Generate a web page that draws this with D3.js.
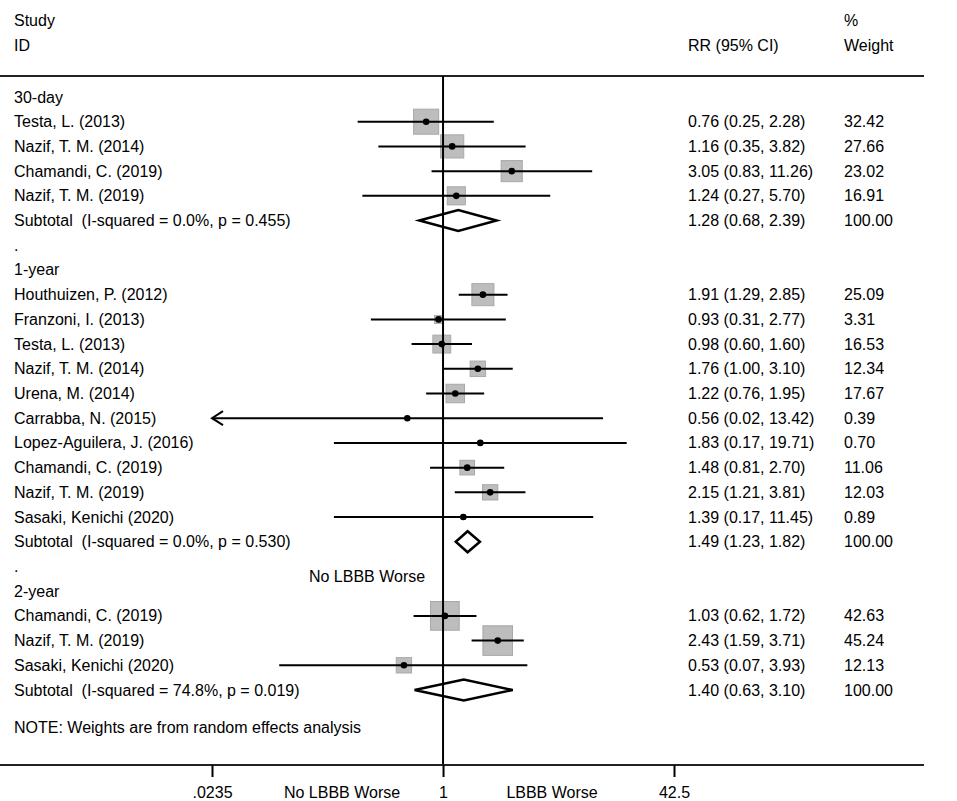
<!DOCTYPE html>
<html>
<head>
<meta charset="utf-8">
<script src="https://cdn.jsdelivr.net/npm/d3@7"></script>
<style>
  body { margin: 0; background: #fff; }
  text { font-family: "Liberation Sans", Arial, sans-serif; font-size: 16px; fill: #000; }
</style>
</head>
<body>
<div id="container"></div>
<script>
/* DATA */
const groupNames = ["30-day", "1-year", "2-year"];
const studyNames = [
  ["Testa, L. (2013)", "Nazif, T. M. (2014)", "Chamandi, C. (2019)", "Nazif, T. M. (2019)"],
  ["Houthuizen, P. (2012)", "Franzoni, I. (2013)", "Testa, L. (2013)", "Nazif, T. M. (2014)",
   "Urena, M. (2014)", "Carrabba, N. (2015)", "Lopez-Aguilera, J. (2016)", "Chamandi, C. (2019)",
   "Nazif, T. M. (2019)", "Sasaki, Kenichi (2020)"],
  ["Chamandi, C. (2019)", "Nazif, T. M. (2019)", "Sasaki, Kenichi (2020)"]
];
const studyRR = [
  [0.76, 1.16, 3.05, 1.24],
  [1.91, 0.93, 0.98, 1.76, 1.22, 0.56, 1.83, 1.48, 2.15, 1.39],
  [1.03, 2.43, 0.53]
];
const studyLo = [
  [0.25, 0.35, 0.83, 0.27],
  [1.29, 0.31, 0.60, 1.00, 0.76, 0.02, 0.17, 0.81, 1.21, 0.17],
  [0.62, 1.59, 0.07]
];
const studyHi = [
  [2.28, 3.82, 11.26, 5.70],
  [2.85, 2.77, 1.60, 3.10, 1.95, 13.42, 19.71, 2.70, 3.81, 11.45],
  [1.72, 3.71, 3.93]
];
const studyWeight = [
  [32.42, 27.66, 23.02, 16.91],
  [25.09, 3.31, 16.53, 12.34, 17.67, 0.39, 0.70, 11.06, 12.03, 0.89],
  [42.63, 45.24, 12.13]
];
const subRR = [1.28, 1.49, 1.40];
const subLo = [0.68, 1.23, 0.63];
const subHi = [2.39, 1.82, 3.10];
const subI2 = ["0.0", "0.0", "74.8"];
const subP = ["0.455", "0.530", "0.019"];
const tickValues = [0.0235, 1, 42.5];
const tickLabels = [".0235", "1", "42.5"];

/* CONSTANTS */
const width = 957, height = 801;
const lineRight = 924, topLineY = 76, axisY = 765;
const labelX = 14, rrX = 688, weightX = 844;

// build row list
let rows = [];
groupNames.forEach((g, gi) => {
  rows.push({ type: "header", label: g });
  studyNames[gi].forEach((s, si) => {
    rows.push({
      type: "study", label: s,
      rr: studyRR[gi][si], lo: studyLo[gi][si], hi: studyHi[gi][si], w: studyWeight[gi][si]
    });
  });
  rows.push({
    type: "subtotal",
    label: `Subtotal  (I-squared = ${subI2[gi]}%, p = ${subP[gi]})`,
    rr: subRR[gi], lo: subLo[gi], hi: subHi[gi], w: 100
  });
  if (gi < groupNames.length - 1) rows.push({ type: "spacer", label: "." });
});
rows.forEach((d, i) => d.i = i);

const xScale = d3.scaleLog()
  .domain([0.0235, 42.5])
  .range([212, 674]);
const yScale = d3.scaleLinear()
  .domain([0, rows.length - 1])
  .range([97, 690]);
const boxScale = d3.scaleSqrt()
  .domain([0, 45.24])
  .range([0, 29.6]);

const svg = d3.select("#container")
  .append("svg")
  .attr("width", width)
  .attr("height", height);

/* HEADER */
svg.append("text").attr("x", labelX).attr("y", 26).text("Study");
svg.append("text").attr("x", labelX).attr("y", 51).text("ID");
svg.append("text").attr("x", rrX).attr("y", 51).text("RR (95% CI)");
svg.append("text").attr("x", weightX).attr("y", 26).text("%");
svg.append("text").attr("x", weightX).attr("y", 51).text("Weight");

svg.append("line")
  .attr("x1", 0).attr("x2", lineRight)
  .attr("y1", topLineY).attr("y2", topLineY)
  .attr("stroke", "#222").attr("stroke-width", 2);

/* LEFT LABELS */
svg.selectAll("text.label")
  .data(rows)
  .join("text")
  .attr("class", "label")
  .attr("x", labelX)
  .attr("y", d => yScale(d.i) + 5.5)
  .style("white-space", "pre")
  .text(d => d.label);

const valueRows = rows.filter(d => d.type === "study" || d.type === "subtotal");

svg.selectAll("text.rr")
  .data(valueRows)
  .join("text")
  .attr("class", "rr")
  .attr("x", rrX)
  .attr("y", d => yScale(d.i) + 5.5)
  .text(d => `${d.rr.toFixed(2)} (${d.lo.toFixed(2)}, ${d.hi.toFixed(2)})`);

svg.selectAll("text.wt")
  .data(valueRows)
  .join("text")
  .attr("class", "wt")
  .attr("x", weightX)
  .attr("y", d => yScale(d.i) + 5.5)
  .text(d => d.w.toFixed(2));

/* MARKS */
const studies = rows.filter(d => d.type === "study");
const [xMin, xMax] = xScale.domain();

svg.selectAll("rect.box")
  .data(studies)
  .join("rect")
  .attr("class", "box")
  .attr("x", d => xScale(d.rr) - boxScale(d.w) / 2)
  .attr("y", d => yScale(d.i) - boxScale(d.w) / 2)
  .attr("width", d => boxScale(d.w))
  .attr("height", d => boxScale(d.w))
  .attr("fill", "#bdbdbd")
  .attr("stroke", "#a8a8a8")
  .attr("stroke-width", 1);

// vertical line at 1
svg.append("line")
  .attr("x1", xScale(1)).attr("x2", xScale(1))
  .attr("y1", topLineY).attr("y2", axisY)
  .attr("stroke", "#000").attr("stroke-width", 2);

svg.selectAll("line.ci")
  .data(studies)
  .join("line")
  .attr("class", "ci")
  .attr("x1", d => xScale(Math.max(d.lo, xMin)))
  .attr("x2", d => xScale(Math.min(d.hi, xMax)))
  .attr("y1", d => yScale(d.i))
  .attr("y2", d => yScale(d.i))
  .attr("stroke", "#000")
  .attr("stroke-width", 2);

// arrows where the CI runs past the axis
svg.selectAll("path.arrow")
  .data(studies.filter(d => d.lo < xMin))
  .join("path")
  .attr("class", "arrow")
  .attr("d", d => {
    const x0 = xScale(xMin), y0 = yScale(d.i);
    return `M${x0 + 11},${y0 - 7}L${x0},${y0}L${x0 + 11},${y0 + 7}`;
  })
  .attr("fill", "none")
  .attr("stroke", "#000")
  .attr("stroke-width", 2);

svg.selectAll("circle.dot")
  .data(studies)
  .join("circle")
  .attr("class", "dot")
  .attr("cx", d => xScale(d.rr))
  .attr("cy", d => yScale(d.i))
  .attr("r", 3.3)
  .attr("fill", "#000");

// subtotal diamonds
svg.selectAll("path.diamond")
  .data(rows.filter(d => d.type === "subtotal"))
  .join("path")
  .attr("class", "diamond")
  .attr("d", d => {
    const y = yScale(d.i), h = 10.5;
    return `M${xScale(d.lo)},${y}L${xScale(d.rr)},${y - h}L${xScale(d.hi)},${y}L${xScale(d.rr)},${y + h}Z`;
  })
  .attr("fill", "none")
  .attr("stroke", "#000")
  .attr("stroke-width", 2.5)
  .attr("stroke-linejoin", "miter");

/* NOTES AND LABELS */
svg.append("text")
  .attr("x", labelX)
  .attr("y", yScale(rows.length - 1) + 43)
  .text("NOTE: Weights are from random effects analysis");

svg.append("text")
  .attr("x", xScale(1) - 76)
  .attr("y", yScale(19) + 16)
  .attr("text-anchor", "middle")
  .text("No LBBB Worse");

/* AXIS */
svg.append("line")
  .attr("x1", 0).attr("x2", lineRight)
  .attr("y1", axisY).attr("y2", axisY)
  .attr("stroke", "#222").attr("stroke-width", 2);

const xAxis = d3.axisBottom(xScale)
  .tickValues(tickValues)
  .tickFormat((d, i) => tickLabels[i])
  .tickSize(12)
  .tickPadding(10);

const xAxisGroup = svg.append("g")
  .attr("class", "x-axis")
  .attr("transform", `translate(0,${axisY})`)
  .call(xAxis);
xAxisGroup.select(".domain").remove();
xAxisGroup.selectAll(".tick line").attr("stroke", "#000").attr("stroke-width", 2);
xAxisGroup.selectAll(".tick text")
  .attr("font-family", null)
  .attr("font-size", null)
  .attr("dy", null)
  .attr("y", 33)
  .style("font-family", "'Liberation Sans', Arial, sans-serif")
  .style("font-size", "16px");

svg.append("text")
  .attr("x", xScale(1) - 101)
  .attr("y", 798)
  .attr("text-anchor", "middle")
  .text("No LBBB Worse");
svg.append("text")
  .attr("x", xScale(1) + 109)
  .attr("y", 798)
  .attr("text-anchor", "middle")
  .text("LBBB Worse");
</script>
</body>
</html>
